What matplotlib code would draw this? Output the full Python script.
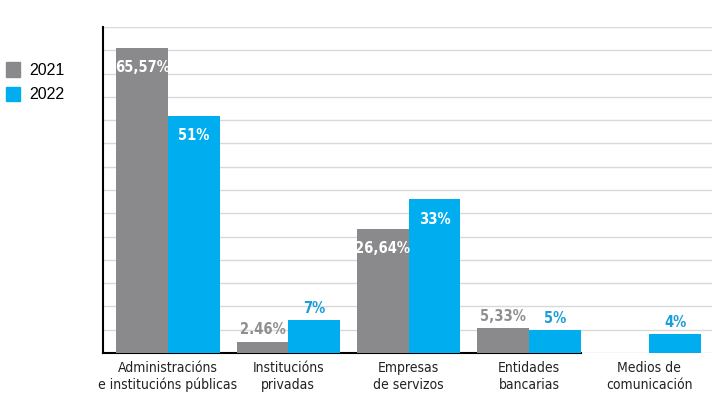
import numpy as np
import matplotlib.pyplot as plt
from matplotlib.patches import Patch

categories = ["Administracións\ne institucións públicas", "Institucións\nprivadas",
              "Empresas\nde servizos", "Entidades\nbancarias", "Medios de\ncomunicación"]
values_2021 = [65.57, 2.46, 26.64, 5.33, 0]
values_2022 = [51, 7, 33, 5, 4]
labels_2021 = ["65,57%", "2.46%", "26,64%", "5,33%", ""]
labels_2022 = ["51%", "7%", "33%", "5%", "4%"]

gray = "#8a8a8c"
blue = "#00aeef"
blue_txt = "#1a9fd8"

plt.rcParams['font.family'] = ['DejaVu Sans']

fig = plt.figure(figsize=(7.25, 4.17), dpi=100)
ax = fig.add_axes([0.142, 0.1535, 0.840, 0.7815])

x = np.arange(len(categories))
w = 0.43
b1 = ax.bar(x - w / 2, values_2021, w, color=gray, zorder=3)
b2 = ax.bar(x + w / 2, values_2022, w, color=blue, zorder=3)

def put_labels(bars, vals, labels, outcolor):
    for bar, v, lab in zip(bars, vals, labels):
        if not lab:
            continue
        cx = bar.get_x() + bar.get_width() / 2
        if v > 15:
            ax.annotate(lab, (cx, v), xytext=(0, -9), textcoords="offset points",
                        ha="center", va="top", color="white", fontsize=10.5,
                        fontweight="bold", fontstretch="condensed", zorder=4)
        else:
            ax.annotate(lab, (cx, v), xytext=(0, 3), textcoords="offset points",
                        ha="center", va="bottom", color=outcolor, fontsize=10.5,
                        fontweight="bold", fontstretch="condensed", zorder=4)

put_labels(b1, values_2021, labels_2021, "#8f8f91")
put_labels(b2, values_2022, labels_2022, blue_txt)

ax.set_xlim(-0.54, 4.52)
ax.set_ylim(0, 70)
ax.set_yticks(np.arange(0, 71, 5))
ax.set_yticklabels([])
ax.tick_params(axis="y", length=0)
ax.grid(axis="y", color="#d9d9d9", linewidth=1, zorder=0)
ax.set_xticks(x)
ax.set_xticklabels(categories, fontsize=10, color="#222222", fontstretch="condensed")
ax.tick_params(axis="x", length=0, pad=6)
for s in ["top", "right"]:
    ax.spines[s].set_visible(False)
ax.spines["left"].set_linewidth(1.5)
ax.spines["bottom"].set_linewidth(1.5)
ax.spines["bottom"].set_bounds(-0.54, 3.43)

handles = [Patch(color=gray, label="2021"), Patch(color=blue, label="2022")]
fig.legend(handles=handles, loc="upper left", bbox_to_anchor=(-0.012, 0.885), frameon=False,
           handlelength=0.9, handleheight=1.0, handletextpad=0.6,
           labelspacing=0.55, prop={'family': 'Liberation Sans', 'size': 11.5})

fig.savefig("out.png", dpi=100)
